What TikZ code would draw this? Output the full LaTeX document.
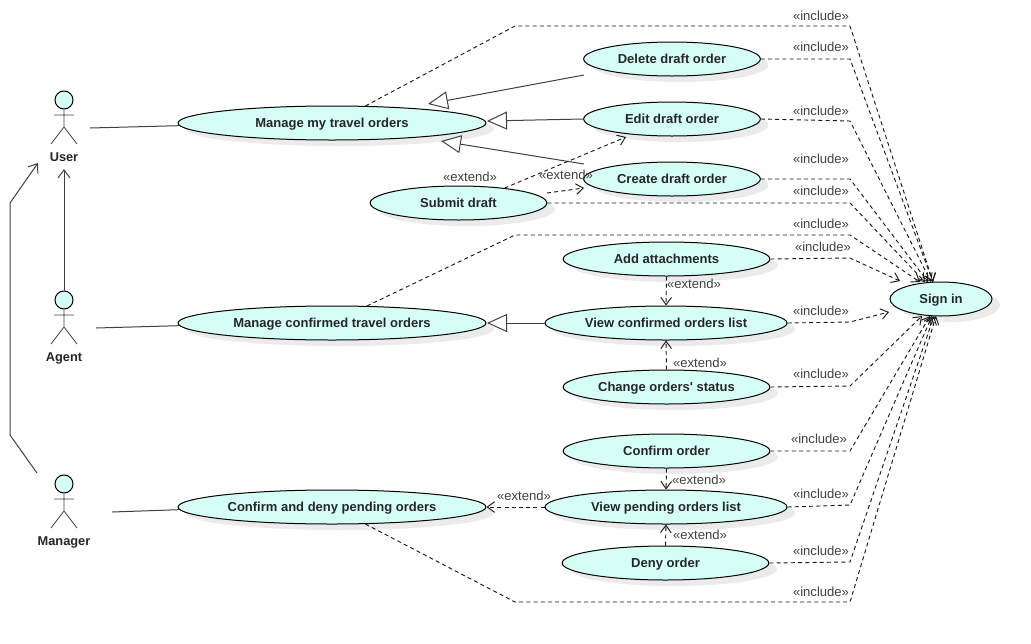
\documentclass[tikz,border=0pt]{standalone}
\usepackage{fontspec}
\setmainfont{Liberation Sans}[Ligatures=TeXOff]
\usetikzlibrary{arrows.meta,shapes.geometric,shadows}
\definecolor{ucfill}{HTML}{D5FFF6}
\definecolor{linec}{HTML}{404040}
\definecolor{labelc}{HTML}{404040}
\tikzset{
  uc/.style={ellipse,draw=black,fill=ucfill,line width=0.75pt,inner sep=0pt,minimum height=25.5pt,
    font=\bfseries\fontsize{9.75pt}{11pt}\selectfont,text=black!85,text height=7pt,text depth=0pt,
    drop shadow={shadow xshift=6pt,shadow yshift=-4.5pt,fill=black!8,opacity=1}},
  ucl/.style={uc,minimum width=231pt},
  ucm/.style={uc,minimum width=155pt},
  ucn/.style={uc,minimum width=132.5pt},
  act/.style={font=\bfseries\fontsize{9.6pt}{11pt}\selectfont,text=black!85,inner sep=0pt,anchor=base},
  head/.style={circle,draw=black,fill=ucfill,line width=0.75pt,minimum size=13.5pt,inner sep=0pt},
  stereo/.style={font=\fontsize{9.8pt}{11pt}\selectfont,text=labelc,inner sep=0pt,text height=7pt,text depth=0pt},
  limb/.style={draw=linec,line width=0.6pt},
  assoc/.style={draw=linec,line width=0.75pt},
  gen/.style={draw=linec,line width=0.75pt,-{Straight Barb[length=6pt,width=9pt]}},
  inh/.style={draw=linec,line width=0.75pt,-{Triangle[open,length=15pt,width=13.5pt,fill=white]}},
  dep/.style={draw=black!90,line width=0.7pt,dash pattern=on 3pt off 2.4pt,-{Straight Barb[length=5.5pt,width=8pt]}}
}
\newcommand{\actorfig}[3]{%
  \node[head] (#1) at (64,#2) {};
  \draw[limb] (#1.south) -- (64,#2+27) (54,#2+15) -- (74,#2+15)
    (64,#2+27) -- (51,#2+44) (64,#2+27) -- (77,#2+44);
  \node[act] (#1l) at (64,#2+61) {#3};
}
\begin{document}
\begin{tikzpicture}[x=0.75pt,y=-0.75pt]
\useasboundingbox (0,0) rectangle (1031,643);
\fill[white] (0,0) rectangle (1031,643);

% coordinates of free ends
\coordinate (ustart) at (90,128);
\coordinate (astart) at (96,328);
\coordinate (mstart) at (112,512);
\coordinate (uarrow) at (64,169);
\coordinate (marrow) at (38,163);
\coordinate (mtop) at (37,473);
\coordinate (mb1) at (10,435);
\coordinate (mb2) at (10,203);
\coordinate (tipdel) at (428,104);
\coordinate (tipedit) at (487,121);
\coordinate (tipcre) at (441,141);
\coordinate (tipconf) at (487,323);
\coordinate (delfrom) at (584,75);
\coordinate (crefrom) at (584,164);
\coordinate (editto) at (626,137);
\coordinate (subst) at (547,193);
\coordinate (creto) at (584,188);

% actors
\actorfig{user}{100}{User}
\actorfig{agent}{300}{Agent}
\actorfig{manager}{484}{Manager}

% use cases
\node[ucl] (mine) at (332,123) {Manage my travel orders};
\node[ucl] (conf) at (332,323) {Manage confirmed travel orders};
\node[ucl] (cdeny) at (332,507) {Confirm and deny pending orders};
\node[ucn] (del) at (672,59) {Delete draft order};
\node[ucn] (edit) at (672,119) {Edit draft order};
\node[ucn] (cre) at (672,179) {Create draft order};
\node[ucn] (sub) at (458.5,203) {Submit draft};
\node[ucm] (att) at (666.5,259) {Add attachments};
\node[uc,minimum width=181.5pt] (viewc) at (666,323) {View confirmed orders list};
\node[ucm] (chg) at (666.5,387) {Change orders' status};
\node[ucm] (cord) at (666.5,451) {Confirm order};
\node[uc,minimum width=181.5pt] (viewp) at (666,507) {View pending orders list};
\node[ucm] (deny) at (665.5,563) {Deny order};
\node[uc,minimum width=76.5pt] (sign) at (941,299) {Sign in};

% associations
\draw[assoc] (ustart) -- (mine.181);
\draw[assoc] (astart) -- (conf.181);
\draw[assoc] (mstart) -- (cdeny.181);
\draw[gen] (agent.north) -- (uarrow);
\draw[gen] (mtop) -- (mb1) -- (mb2) -- (marrow);

% inheritance
\draw[inh] (delfrom) -- (tipdel);
\draw[inh] (edit.west) -- (tipedit);
\draw[inh] (crefrom) -- (tipcre);
\draw[inh] (viewc.west) -- (tipconf);

% extends
\draw[dep] (sub.18) -- (editto);
\draw[dep] (subst) -- (creto);
\draw[dep] (att.south) -- (viewc.north);
\draw[dep] (chg.north) -- (viewc.south);
\draw[dep] (cord.south) -- (viewp.north);
\draw[dep] (deny.north) -- (viewp.south);
\draw[dep] (viewp.west) -- (cdeny.east);

% includes
\draw[dep] (mine.27) -- (515,26) -- (850,26) -- (933,282);
\draw[dep] (del.east) -- (850,59) -- (933,282);
\draw[dep] (edit.east) -- (850,121) -- (931,282);
\draw[dep] (cre.east) -- (850,179) -- (928,282);
\draw[dep] (sub.east) -- (850,203) -- (925,282);
\draw[dep] (conf.26) -- (515,235) -- (850,235) -- (920,282);
\draw[dep] (att.east) -- (850,258) -- (900,281);
\draw[dep] (viewc.east) -- (850,322) -- (889,312);
\draw[dep] (chg.east) -- (850,386) -- (922,316);
\draw[dep] (cord.east) -- (850,451) -- (930,316);
\draw[dep] (viewp.east) -- (850,505) -- (932,316);
\draw[dep] (deny.east) -- (850,562) -- (934,316);
\draw[dep] (cdeny.-27) -- (515,602) -- (850,602) -- (936,316);

% stereotypes
\node[stereo] (e1) at (470,177) {«extend»};
\node[stereo] (e2) at (566,175) {«extend»};
\node[stereo] (e3) at (694,284) {«extend»};
\node[stereo] (e4) at (700,363) {«extend»};
\node[stereo] (e5) at (699,480) {«extend»};
\node[stereo] (e6) at (700,535) {«extend»};
\node[stereo] (e7) at (524,496) {«extend»};
\node[stereo] (i1) at (821,16) {«include»};
\node[stereo] (i2) at (821,47) {«include»};
\node[stereo] (i3) at (821,111) {«include»};
\node[stereo] (i4) at (821,159) {«include»};
\node[stereo] (i5) at (821,191) {«include»};
\node[stereo] (i6) at (821,224) {«include»};
\node[stereo] (i7) at (823,247) {«include»};
\node[stereo] (i8) at (821,311) {«include»};
\node[stereo] (i9) at (821,374) {«include»};
\node[stereo] (i10) at (819,439) {«include»};
\node[stereo] (i11) at (821,494) {«include»};
\node[stereo] (i12) at (821,551) {«include»};
\node[stereo] (i13) at (821,592) {«include»};
\end{tikzpicture}
\end{document}
